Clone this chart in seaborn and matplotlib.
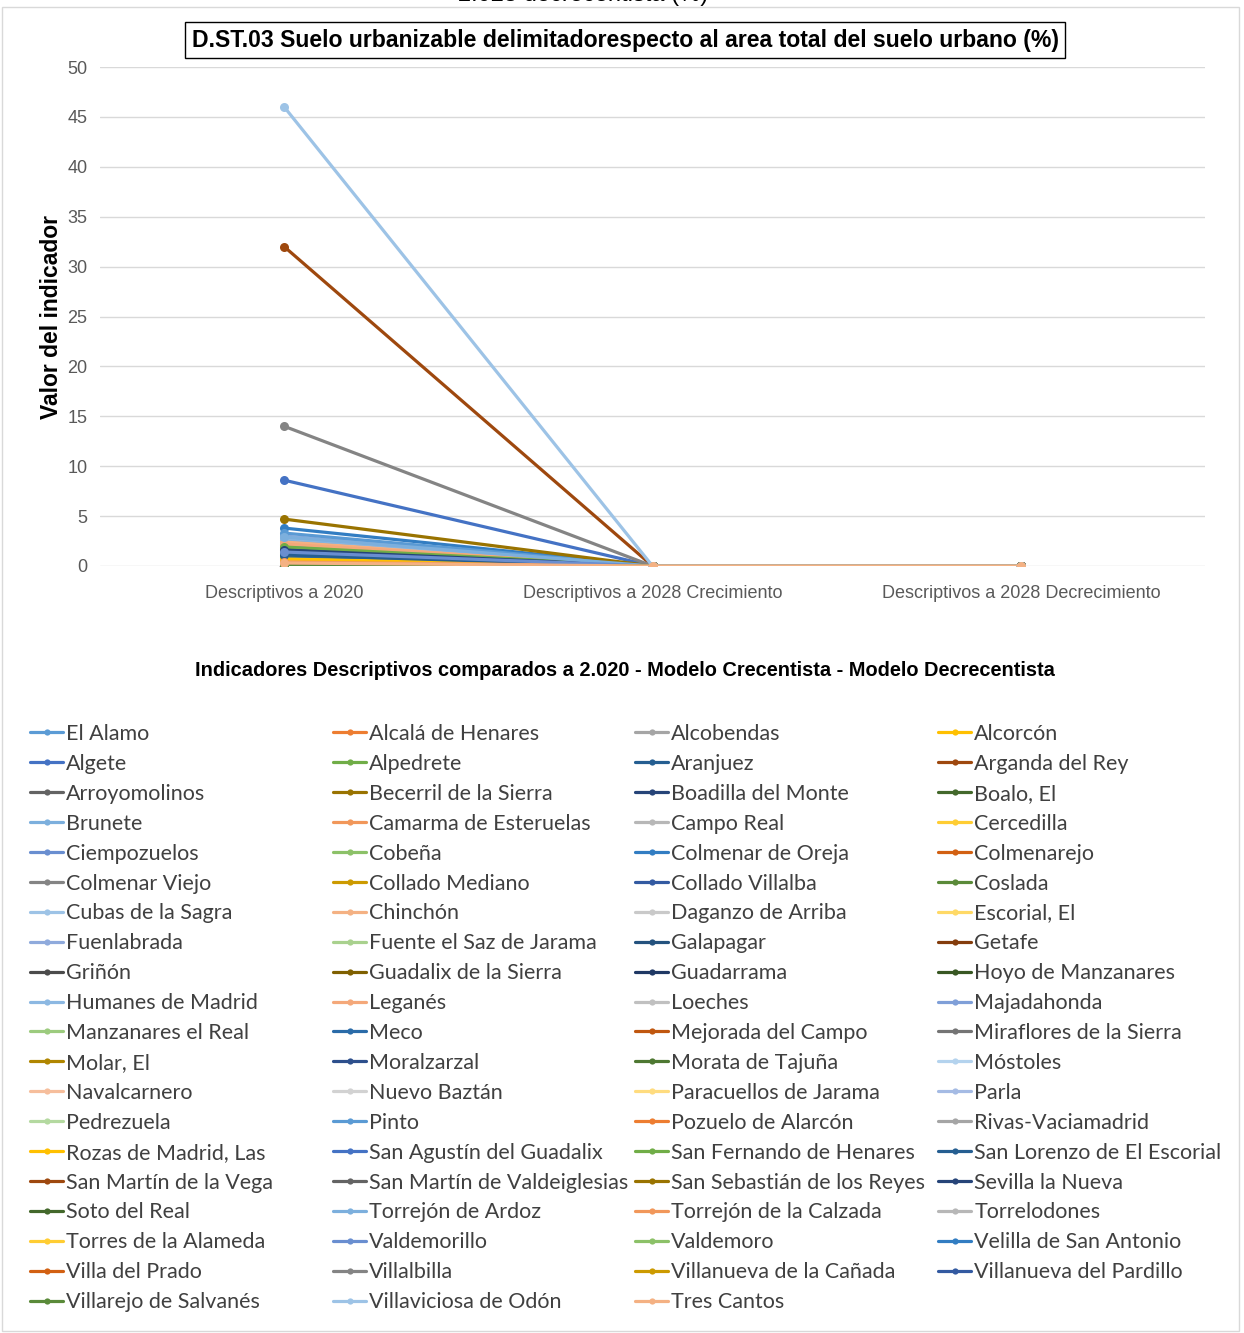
import numpy as np
import pandas as pd
import seaborn as sns
import matplotlib
matplotlib.use("Agg")
import matplotlib.pyplot as plt
from matplotlib import font_manager
from matplotlib.lines import Line2D
from matplotlib.patches import Rectangle

# ---- data ---------------------------------------------------------------
categorias = ["Descriptivos a 2020", "Descriptivos a 2028 Crecimiento",
              "Descriptivos a 2028 Decrecimiento"]

municipios = [
    "El Alamo", "Alcalá de Henares", "Alcobendas", "Alcorcón",
    "Algete", "Alpedrete", "Aranjuez", "Arganda del Rey",
    "Arroyomolinos", "Becerril de la Sierra", "Boadilla del Monte", "Boalo, El",
    "Brunete", "Camarma de Esteruelas", "Campo Real", "Cercedilla",
    "Ciempozuelos", "Cobeña", "Colmenar de Oreja", "Colmenarejo",
    "Colmenar Viejo", "Collado Mediano", "Collado Villalba", "Coslada",
    "Cubas de la Sagra", "Chinchón", "Daganzo de Arriba", "Escorial, El",
    "Fuenlabrada", "Fuente el Saz de Jarama", "Galapagar", "Getafe",
    "Griñón", "Guadalix de la Sierra", "Guadarrama", "Hoyo de Manzanares",
    "Humanes de Madrid", "Leganés", "Loeches", "Majadahonda",
    "Manzanares el Real", "Meco", "Mejorada del Campo", "Miraflores de la Sierra",
    "Molar, El", "Moralzarzal", "Morata de Tajuña", "Móstoles",
    "Navalcarnero", "Nuevo Baztán", "Paracuellos de Jarama", "Parla",
    "Pedrezuela", "Pinto", "Pozuelo de Alarcón", "Rivas-Vaciamadrid",
    "Rozas de Madrid, Las", "San Agustín del Guadalix", "San Fernando de Henares", "San Lorenzo de El Escorial",
    "San Martín de la Vega", "San Martín de Valdeiglesias", "San Sebastián de los Reyes", "Sevilla la Nueva",
    "Soto del Real", "Torrejón de Ardoz", "Torrejón de la Calzada", "Torrelodones",
    "Torres de la Alameda", "Valdemorillo", "Valdemoro", "Velilla de San Antonio",
    "Villa del Prado", "Villalbilla", "Villanueva de la Cañada", "Villanueva del Pardillo",
    "Villarejo de Salvanés", "Villaviciosa de Odón", "Tres Cantos",
]

valor_2020 = [
    1.2, 0.6, 0.0, 0.9,
    1.5, 0.0, 1.3, 32.0,
    0.0, 0.0, 1.8, 0.0,
    2.6, 0.0, 0.0, 0.0,
    2.1, 0.0, 3.8, 0.0,
    0.0, 1.0, 0.0, 0.0,
    0.0, 2.4, 0.0, 0.0,
    3.0, 0.0, 1.4, 0.0,
    1.6, 0.0, 1.7, 0.0,
    2.8, 2.2, 0.0, 0.0,
    0.0, 0.8, 0.0, 0.0,
    0.0, 0.0, 0.0, 0.0,
    0.0, 0.0, 0.5, 0.0,
    0.0, 3.3, 0.0, 0.0,
    0.7, 8.6, 1.9, 1.1,
    0.0, 0.0, 4.7, 1.6,
    0.0, 2.9, 0.4, 0.0,
    0.0, 1.4, 0.0, 0.0,
    0.0, 14.0, 0.0, 0.0,
    0.1, 46.0, 0.3,
]
valor_2028_crecimiento = [0.0] * len(municipios)
valor_2028_decrecimiento = [0.0] * len(municipios)

colores = [
    "#5B9BD5", "#ED7D31", "#A5A5A5", "#FFC000", "#4472C4", "#70AD47",
    "#255E91", "#9E480E", "#636363", "#997300", "#264478", "#43682B",
    "#7CAFDD", "#F1975A", "#B7B7B7", "#FFCD33", "#698ED0", "#8CC168",
    "#327DC2", "#D26012", "#848484", "#CC9A00", "#335AA1", "#5A8A39",
    "#9DC3E6", "#F4B183", "#C9C9C9", "#FFD966", "#8FAADC", "#A9D18E",
    "#24527E", "#843C0C", "#4B4B4B", "#7F6000", "#1F3864", "#385723",
    "#8CB8E2", "#F4A87A", "#C0C0C0", "#7F9FD8", "#9CCB7E", "#2A6BA8",
    "#C0570F", "#747474", "#B08600", "#2D4F8C", "#4E7832", "#B4D3EE",
    "#F6BE9C", "#D2D2D2", "#FFDC7F", "#A5BBE4", "#B4D9A0", "#5A9AD4",
    "#ED7D31", "#A5A5A5", "#FFC000", "#4472C4", "#70AD47", "#255E91",
    "#9E480E", "#636363", "#997300", "#264478", "#43682B", "#7CAFDD",
    "#F1975A", "#B7B7B7", "#FFCD33", "#698ED0", "#8CC168", "#327DC2",
    "#D26012", "#848484", "#CC9A00", "#335AA1", "#5A8A39", "#9DC3E6",
    "#F4B183",
]

df = pd.DataFrame({
    "municipio": np.repeat(municipios, 3),
    "categoria": categorias * len(municipios),
    "valor": np.ravel(np.column_stack([valor_2020, valor_2028_crecimiento,
                                       valor_2028_decrecimiento])),
})

# ---- fonts --------------------------------------------------------------
sns.set_theme(style="white")
available = {f.name for f in font_manager.fontManager.ttflist}
narrow = "Liberation Sans Narrow" if "Liberation Sans Narrow" in available else "Liberation Sans"
plt.rcParams["font.family"] = ["Liberation Sans", "DejaVu Sans"]
legend_font = "Lato"

# ---- figure -------------------------------------------------------------
W, H = 1244, 1333
fig = plt.figure(figsize=(W / 100, H / 100), dpi=100)
fig.patch.set_facecolor("white")

# light frame of the chart area
fig.patches.append(Rectangle((2 / W, 2 / H), 1237 / W, (H - 7 - 2) / H,
                             transform=fig.transFigure, fill=False,
                             edgecolor="#D9D9D9", linewidth=1.0))

ax = fig.add_axes([100 / W, 1 - 566 / H, 1105 / W, 499 / H])

sns.lineplot(data=df, x="categoria", y="valor", hue="municipio",
             hue_order=municipios, palette=colores, marker="o",
             markersize=6.5, markeredgewidth=0, linewidth=2.3,
             sort=False, legend=False, ax=ax)

ax.set_xlim(-0.5, 2.5)
ax.set_ylim(0, 50)
ax.set_yticks(np.arange(0, 51, 5))
ax.grid(axis="y", color="#D9D9D9", linewidth=1.0)
ax.grid(axis="x", visible=False)
ax.set_axisbelow(True)
for s in ax.spines.values():
    s.set_visible(False)
ax.tick_params(axis="both", length=0, colors="#595959", labelsize=13)
ax.tick_params(axis="x", pad=14)
ax.tick_params(axis="y", pad=9)
ax.set_xlabel("")
ax.set_ylabel("")

# vertical axis title
fig.text(52 / W, 1 - 317 / H, "Valor del indicador", rotation=90,
         ha="center", va="center", fontsize=16.5, fontweight="bold", color="black")

# chart title in a box
fig.text(625 / W, 1 - 40 / H,
         "D.ST.03 Suelo urbanizable delimitadorespecto al area total del suelo urbano (%)",
         ha="center", va="center", fontsize=16.6, fontweight="bold",
         family=[narrow, "DejaVu Sans"], color="black",
         bbox=dict(boxstyle="square,pad=0.3", facecolor="white",
                   edgecolor="black", linewidth=1.0))

# heading above the chart, partly outside the canvas
fig.text(583 / W, 1 + 5 / H, "2.028 decrecentista (%)", ha="center", va="center",
         fontsize=17, color="black", family=["Liberation Sans", "DejaVu Sans"])

# axis caption
fig.text(625 / W, 1 - 671 / H,
         "Indicadores Descriptivos comparados a 2.020 - Modelo Crecentista - Modelo Decrecentista",
         ha="center", va="center", fontsize=14.4, fontweight="bold",
         family=[narrow, "DejaVu Sans"], color="black")

# legend: four evenly spaced columns, filled row by row
col_x = [30, 333, 635, 938]
top_y = 734
n = len(municipios)
for c in range(4):
    idx = list(range(c, n, 4))
    handles = [Line2D([0], [0], color=colores[i], linewidth=2.3, marker="o",
                      markersize=4.5, markeredgewidth=0) for i in idx]
    labels = [municipios[i] for i in idx]
    fig.legend(handles, labels, loc="upper left",
               bbox_to_anchor=(col_x[c] / W, 1 - (top_y - 10) / H),
               frameon=False, handlelength=1.55, handletextpad=0.14,
               labelspacing=0.46, borderpad=0, borderaxespad=0,
               prop={"family": [legend_font, "DejaVu Sans"], "size": 15.5},
               labelcolor="#404040")

fig.savefig("out.png", dpi=100, facecolor="white")
